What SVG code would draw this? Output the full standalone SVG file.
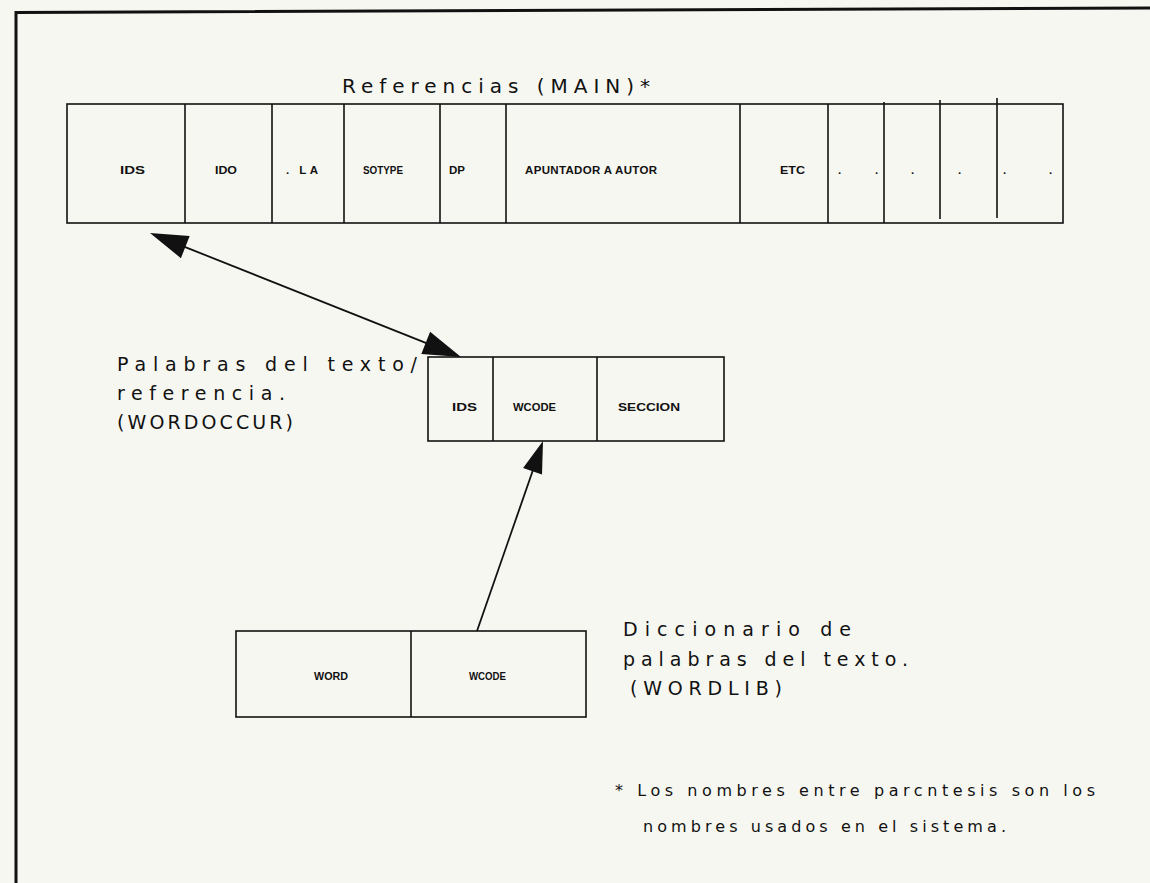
<svg xmlns="http://www.w3.org/2000/svg" width="1150" height="883" viewBox="0 0 1150 883">
<style>
.bg{fill:#f7f7f2}
.frame{fill:none;stroke:#111;stroke-width:3}
.box{fill:none;stroke:#111;stroke-width:1.6}
.div{stroke:#111;stroke-width:1.6}
.big{font-family:"DejaVu Sans","Liberation Sans",sans-serif;font-size:19px;fill:#111}
.note{font-family:"DejaVu Sans","Liberation Sans",sans-serif;font-size:16px;fill:#111}
.lbl{font-family:"Liberation Sans",Arial,sans-serif;font-size:11.5px;font-weight:bold;fill:#111}
.conn{stroke:#111;stroke-width:1.8;fill:none}
.head{fill:#111;stroke:none}
</style>
<rect class="bg" x="0" y="0" width="1150" height="883"/>
<path class="frame" d="M16,883 L16,12.5 L1150,8"/>

<text class="big" x="342" y="93" textLength="308" lengthAdjust="spacing" style="font-size:20px">Referencias (MAIN)*</text>

<g id="main">
<rect class="box" x="67" y="104" width="996" height="119"/>
<line class="div" x1="185" y1="104" x2="185" y2="223"/>
<line class="div" x1="272" y1="104" x2="272" y2="223"/>
<line class="div" x1="344" y1="104" x2="344" y2="223"/>
<line class="div" x1="440" y1="104" x2="440" y2="223"/>
<line class="div" x1="506" y1="104" x2="506" y2="223"/>
<line class="div" x1="740" y1="104" x2="740" y2="223"/>
<line class="div" x1="828" y1="104" x2="828" y2="223"/>
<line class="div" x1="884" y1="102" x2="884" y2="223"/>
<line class="div" x1="940" y1="100" x2="940" y2="219"/>
<line class="div" x1="997" y1="98" x2="997" y2="218"/>
<text class="lbl" x="120" y="174" textLength="25" lengthAdjust="spacingAndGlyphs">IDS</text>
<text class="lbl" x="215" y="174" textLength="22" lengthAdjust="spacingAndGlyphs">IDO</text>
<text class="lbl" x="286" y="174" textLength="32" lengthAdjust="spacing">. LA</text>
<text class="lbl" x="363" y="174" textLength="40" lengthAdjust="spacingAndGlyphs">SOTYPE</text>
<text class="lbl" x="449" y="174" textLength="16" lengthAdjust="spacingAndGlyphs">DP</text>
<text class="lbl" x="525" y="174" textLength="132" lengthAdjust="spacing">APUNTADOR A AUTOR</text>
<text class="lbl" x="780" y="174" textLength="25" lengthAdjust="spacingAndGlyphs">ETC</text>
<text class="lbl" x="838" y="174">.</text>
<text class="lbl" x="875" y="174">.</text>
<text class="lbl" x="911" y="174">.</text>
<text class="lbl" x="958" y="174">.</text>
<text class="lbl" x="1003" y="174">.</text>
<text class="lbl" x="1049" y="174">.</text>
</g>

<g id="wordoccur">
<rect class="box" x="428" y="357" width="296" height="84"/>
<line class="div" x1="493" y1="357" x2="493" y2="441"/>
<line class="div" x1="597" y1="357" x2="597" y2="441"/>
<text class="lbl" x="452" y="411" textLength="25" lengthAdjust="spacingAndGlyphs">IDS</text>
<text class="lbl" x="513" y="411" textLength="43" lengthAdjust="spacingAndGlyphs">WCODE</text>
<text class="lbl" x="618" y="411" textLength="62" lengthAdjust="spacingAndGlyphs">SECCION</text>
</g>
<g id="wordoccur-label">
<text class="big" x="117" y="371" textLength="300" lengthAdjust="spacing">Palabras del texto/</text>
<text class="big" x="117" y="400" textLength="168" lengthAdjust="spacing">referencia.</text>
<text class="big" x="117" y="429" textLength="176" lengthAdjust="spacing">(WORDOCCUR)</text>
</g>

<g id="wordlib">
<rect class="box" x="236" y="631" width="350" height="86"/>
<line class="div" x1="411" y1="631" x2="411" y2="717"/>
<text class="lbl" x="314" y="680" textLength="34" lengthAdjust="spacingAndGlyphs">WORD</text>
<text class="lbl" x="469" y="680" textLength="37" lengthAdjust="spacingAndGlyphs">WCODE</text>
</g>
<g id="wordlib-label">
<text class="big" x="623" y="636" textLength="228" lengthAdjust="spacing">Diccionario de</text>
<text class="big" x="623" y="666" textLength="285" lengthAdjust="spacing">palabras del texto.</text>
<text class="big" x="630" y="695" textLength="152" lengthAdjust="spacing">(WORDLIB)</text>
</g>

<g id="connectors">
<line class="conn" x1="184" y1="246.6" x2="427" y2="343.4"/>
<polygon class="head" points="150,233 180.9,258.2 189.7,235.9"/>
<polygon class="head" points="461,357 421.3,354 430.1,331.8"/>
<line class="conn" x1="477" y1="631" x2="533" y2="470"/>
<polygon class="head" points="543,441 542,474.5 523.1,468"/>
</g>

<g id="footnote">
<text class="note" x="615" y="796" textLength="480" lengthAdjust="spacing">* Los nombres entre parcntesis son los</text>
<text class="note" x="643" y="832" textLength="363" lengthAdjust="spacing">nombres usados en el sistema.</text>
</g>
</svg>
